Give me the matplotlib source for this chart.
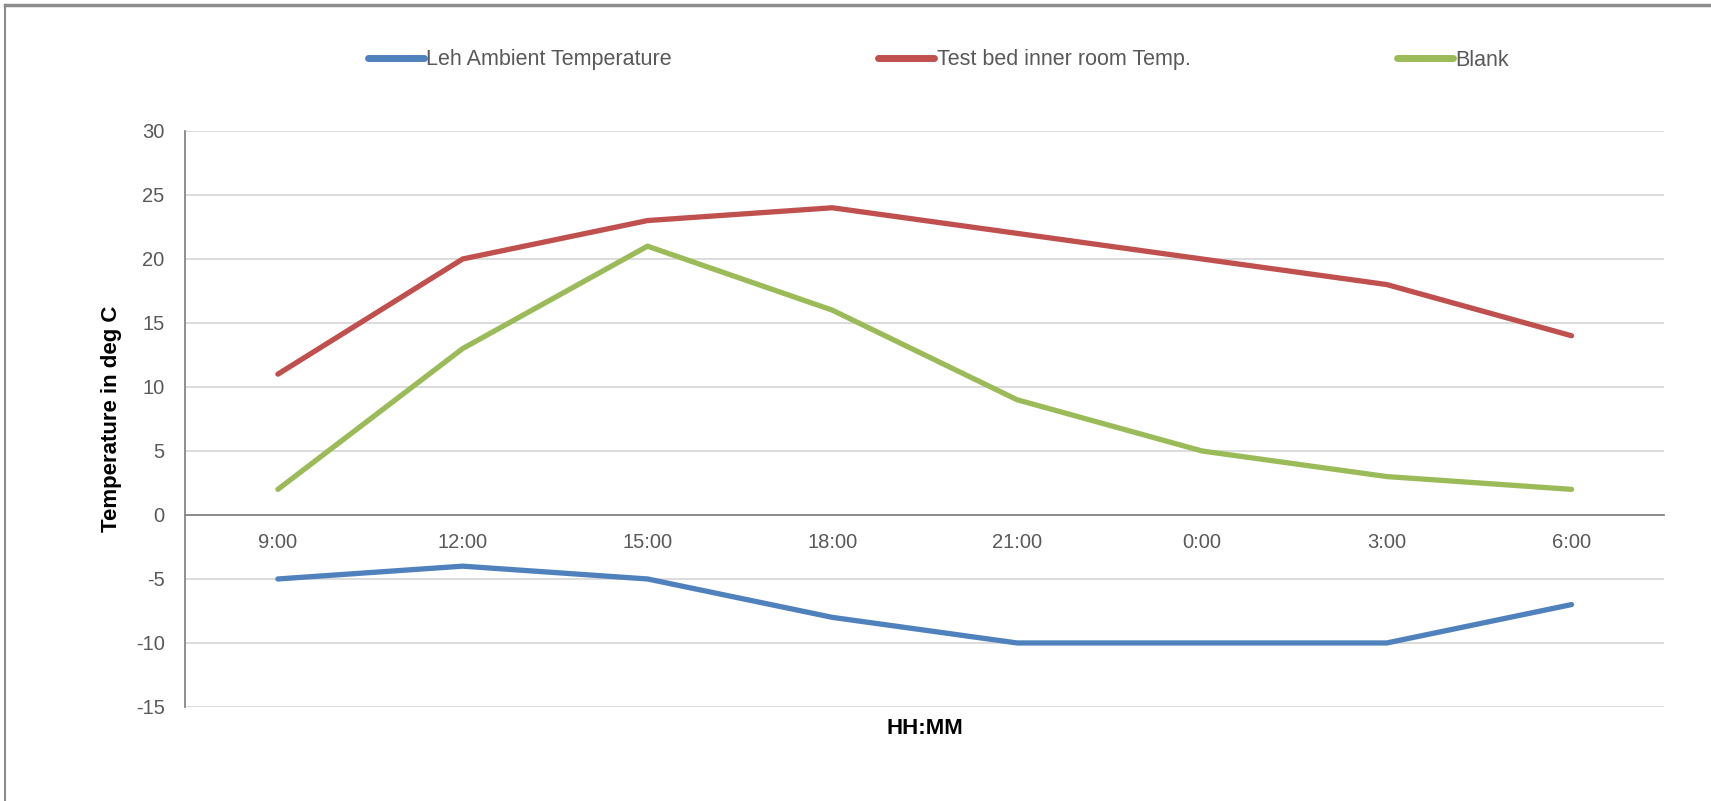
import matplotlib.pyplot as plt
from matplotlib.lines import Line2D

plt.rcParams['font.family'] = ['Liberation Sans', 'DejaVu Sans']
plt.rcParams['axes.unicode_minus'] = False

times = ['9:00', '12:00', '15:00', '18:00', '21:00', '0:00', '3:00', '6:00']
leh_ambient = [-5, -4, -5, -8, -10, -10, -10, -7]
test_bed = [11, 20, 23, 24, 22, 20, 18, 14]
blank = [2, 13, 21, 16, 9, 5, 3, 2]
y_ticks = [-15, -10, -5, 0, 5, 10, 15, 20, 25, 30]

fig = plt.figure(figsize=(17.11, 8.01), dpi=100)
ax = fig.add_axes([0.1084, 0.1174, 0.8641, 0.7191])

x = range(len(times))
ax.plot(x, leh_ambient, color='#4F81BD', lw=3.8, solid_capstyle='round', label='Leh Ambient Temperature')
ax.plot(x, test_bed, color='#C0504D', lw=3.8, solid_capstyle='round', label='Test bed inner room Temp.')
ax.plot(x, blank, color='#9BBB59', lw=3.8, solid_capstyle='round', label='Blank')

ax.set_xlim(-0.5, len(times) - 0.5)
ax.set_ylim(-15, 30)
ax.set_yticks(y_ticks)
ax.set_xticks(list(x))
ax.set_xticklabels(times)
ax.yaxis.grid(True, color='#D9D9D9', lw=1.3)
ax.set_axisbelow(True)

for s in ['top', 'right']:
    ax.spines[s].set_visible(False)
ax.spines['left'].set_color('#868686')
ax.spines['left'].set_linewidth(1.3)
ax.spines['bottom'].set_position(('data', 0))
ax.spines['bottom'].set_color('#868686')
ax.spines['bottom'].set_linewidth(1.3)
ax.tick_params(axis='both', length=0, labelsize=14.5, labelcolor='#595959')
ax.tick_params(axis='y', pad=15)
ax.tick_params(axis='x', pad=13)

ax.set_ylabel('Temperature in deg C', fontsize=16, fontweight='bold')
ax.yaxis.set_label_coords(-0.043, 0.5)
fig.text(0.5407, 1 - 729 / 801, 'HH:MM', fontsize=16, fontweight='bold', ha='center', va='center')

handles = [Line2D([], [], color=c, lw=5, solid_capstyle='round') for c in ['#4F81BD', '#C0504D', '#9BBB59']]
fig.legend(handles, ['Leh Ambient Temperature', 'Test bed inner room Temp.', 'Blank'],
           loc='center', bbox_to_anchor=(0.5485, 1 - 60 / 801), ncol=3, frameon=False,
           fontsize=15.5, handlelength=2.6, handletextpad=0.1, columnspacing=9.6,
           labelcolor='#595959')

# chart border (left and top only visible)
fig.add_artist(Line2D([0.003, 0.003], [0, 0.994], transform=fig.transFigure, color='#8C8C8C', lw=1.5))
fig.add_artist(Line2D([0.003, 1], [0.994, 0.994], transform=fig.transFigure, color='#8C8C8C', lw=2.5))

fig.savefig('out.png', dpi=100)
